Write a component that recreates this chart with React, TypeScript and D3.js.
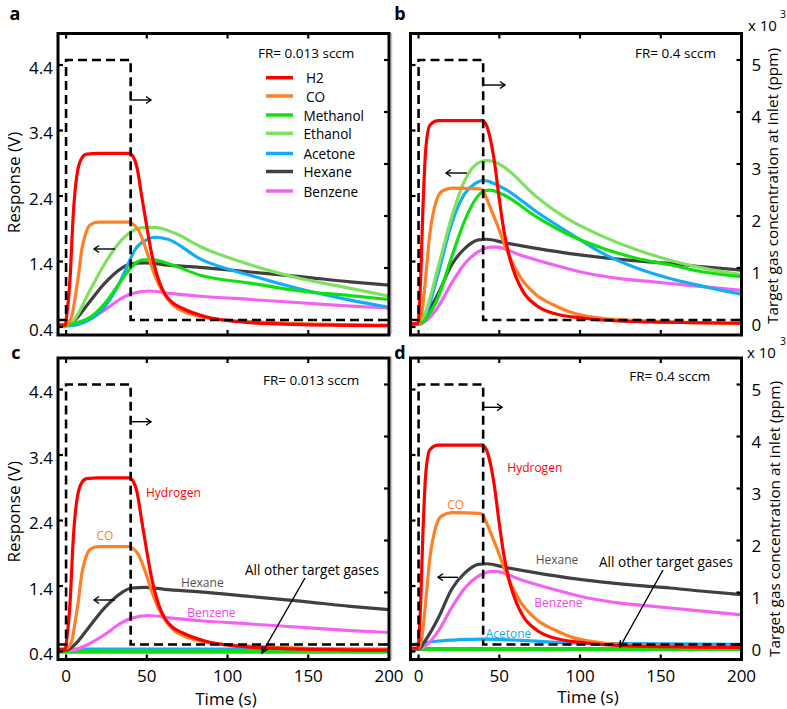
import React from "react";
import * as d3 from "d3";

type P = [number, number];

// ---------- data (time s, response V) ----------
// FR = 0.013 sccm
const H2_LOW: P[] = [[-5,0.43],[-0.5,0.43],[0.5,0.6],[2.4,1.12],[4.5,2.14],[6.6,2.7],[9.7,2.98],[12.8,3.04],[20,3.05],[39,3.05],[41.5,3.0],[43.8,2.85],[46.9,2.39],[50,1.93],[53,1.52],[56,1.22],[61,0.91],[66,0.77],[71.6,0.69],[86,0.56],[107,0.48],[140,0.44],[200,0.42]];
const CO_LOW: P[] = [[-5,0.43],[0,0.44],[3.5,0.56],[5.6,0.85],[7.6,1.17],[9.7,1.58],[11.8,1.8],[14.9,1.96],[20,2.0],[39,2.0],[41,1.98],[44.8,1.88],[48.9,1.63],[53,1.32],[57,1.07],[63.4,0.81],[75.7,0.61],[96.4,0.51],[117,0.48],[150,0.45],[200,0.43]];
const METHANOL_LOW: P[] = [[-5,0.42],[0,0.42],[5.6,0.46],[13.8,0.53],[24,0.76],[34.5,1.12],[40.7,1.32],[46.9,1.42],[53,1.43],[65.4,1.35],[83,1.19],[114,1.07],[145,0.95],[176,0.88],[200,0.82]];
const ETHANOL_LOW: P[] = [[-5,0.42],[0,0.42],[1.7,0.43],[5.6,0.53],[13.8,0.91],[24,1.37],[34.5,1.73],[40.7,1.86],[49,1.92],[55,1.92],[67.5,1.83],[83,1.63],[114,1.35],[145,1.14],[176,0.99],[200,0.87]];
const ACETONE_LOW: P[] = [[-5,0.42],[0,0.42],[1.7,0.42],[13.8,0.5],[24,0.71],[32.4,1.04],[38.6,1.37],[42.7,1.58],[49,1.72],[55,1.77],[63,1.74],[83,1.44],[114,1.19],[145,0.98],[176,0.81],[200,0.7]];
const HEXANE_LOW: P[] = [[-5,0.42],[0,0.42],[5.6,0.51],[13.8,0.76],[24,1.07],[34.5,1.3],[40.7,1.37],[49,1.38],[61,1.35],[83,1.31],[114,1.24],[145,1.17],[176,1.09],[200,1.04]];
const BENZENE_LOW: P[] = [[-5,0.42],[0,0.42],[5.6,0.43],[13.8,0.51],[24,0.66],[34.5,0.84],[40.7,0.91],[51,0.95],[65.4,0.91],[83,0.87],[114,0.82],[145,0.77],[176,0.72],[200,0.69]];

// FR = 0.4 sccm
const H2_HIGH: P[] = [[-5,0.45],[-0.5,0.45],[0.9,0.9],[2.9,2.34],[4.4,3.1],[7,3.48],[12.2,3.55],[39,3.55],[42,3.48],[44,3.32],[47,2.92],[50,2.35],[53,1.85],[56.5,1.45],[60.5,1.15],[65,0.93],[73,0.73],[83.4,0.61],[104,0.53],[135,0.48],[200,0.46]];
const CO_HIGH: P[] = [[-5,0.45],[0,0.45],[2,0.61],[5,1.32],[7,1.83],[10,2.24],[14.3,2.47],[20.5,2.52],[38,2.51],[40,2.48],[42.2,2.36],[44.5,2.22],[48.4,1.98],[54.5,1.58],[62.8,1.17],[73,0.89],[83.4,0.74],[93.7,0.63],[114.4,0.53],[135,0.5],[200,0.45]];
const METHANOL_HIGH: P[] = [[-5,0.44],[0,0.44],[4,0.51],[12.2,0.86],[20.5,1.47],[28.7,2.03],[35,2.34],[41,2.48],[44.2,2.49],[52.5,2.42],[73,2.08],[93.7,1.8],[114.4,1.6],[135,1.45],[155.7,1.35],[176.3,1.24],[200,1.17]];
const ETHANOL_HIGH: P[] = [[-5,0.44],[0,0.44],[4,0.61],[12.2,1.32],[20.5,2.08],[28.7,2.64],[35,2.87],[42,2.94],[47.3,2.92],[52.5,2.85],[73,2.39],[93.7,2.03],[114.4,1.78],[135,1.58],[155.7,1.42],[176.3,1.3],[200,1.2]];
const ACETONE_HIGH: P[] = [[-5,0.44],[0,0.44],[4,0.56],[12.2,1.22],[20.5,1.98],[28.7,2.44],[35,2.59],[40,2.64],[52.5,2.52],[73,2.16],[93.7,1.83],[114.4,1.52],[135,1.3],[155.7,1.14],[176.3,1.02],[200,0.9]];
const HEXANE_HIGH: P[] = [[-5,0.44],[0,0.44],[4,0.56],[12.2,0.91],[20.5,1.35],[28.7,1.6],[37,1.73],[42.2,1.74],[52.5,1.69],[73,1.6],[93.7,1.52],[114.4,1.46],[135,1.41],[155.7,1.37],[176.3,1.32],[200,1.27]];
const BENZENE_HIGH: P[] = [[-5,0.44],[0,0.44],[4,0.48],[12.2,0.71],[20.5,1.07],[28.7,1.37],[37,1.55],[45,1.62],[48.4,1.62],[62.8,1.5],[83.4,1.35],[104,1.22],[124.7,1.14],[145.3,1.09],[166,1.04],[200,0.96]];

// panels c / d: the weak responders
const OTHERS_LOW_GREEN: P[] = [[-5,0.395],[200,0.395]];
const OTHERS_LOW_ACETONE: P[] = [[-5,0.435],[200,0.435]];
const OTHERS_HIGH_GREEN: P[] = [[-5,0.44],[200,0.44]];
const ACETONE_HIGH_WEAK: P[] = [[-5,0.5],[0,0.52],[12,0.56],[25,0.58],[40,0.59],[64,0.57],[95,0.53],[130,0.52],[200,0.51]];

// dose pulse (time s, ppm)
const DOSE_T = [-5, 0, 0, 40, 40, 200];
const DOSE_PPM = [0, 0, 5000, 5000, 0, 0];

const V_TICKS = [0.4, 1.4, 2.4, 3.4, 4.4];
const PPM_TICKS = [0, 1000, 2000, 3000, 4000, 5000];
const T_TICKS = [0, 50, 100, 150, 200];

const GASES = ["H2", "CO", "Methanol", "Ethanol", "Acetone", "Hexane", "Benzene"];
const COLORS: Record<string, string> = {
  H2: "#ff0000",
  CO: "#ff7f27",
  Methanol: "#10e010",
  Ethanol: "#80e060",
  Acetone: "#12aef5",
  Hexane: "#404040",
  Benzene: "#f462f4",
};

const FONT = "'Open Sans', 'Noto Sans', sans-serif";
const PW = 331;
const PH = 301.5;

type Series = { gas: string; data: P[]; width?: number };
type Label = { text: string; x: number; y: number; color: string; size: number; anchor?: string };

interface PanelDef {
  key: string;
  left: number;
  top: number;
  fr: string;
  frX: number;
  frY: number;
  series: Series[];
  leftLabels: boolean;
  rightLabels: boolean;
  xLabels: boolean;
  legend: boolean;
  arrowR: [number, number, number];
  arrowL: [number, number, number];
  labels: Label[];
  pointer?: [number, number, number, number];
}

const lowAll: Series[] = [
  { gas: "Benzene", data: BENZENE_LOW },
  { gas: "Hexane", data: HEXANE_LOW },
  { gas: "Acetone", data: ACETONE_LOW },
  { gas: "Ethanol", data: ETHANOL_LOW },
  { gas: "Methanol", data: METHANOL_LOW },
  { gas: "CO", data: CO_LOW },
  { gas: "H2", data: H2_LOW },
];
const highAll: Series[] = [
  { gas: "Benzene", data: BENZENE_HIGH },
  { gas: "Hexane", data: HEXANE_HIGH },
  { gas: "Acetone", data: ACETONE_HIGH },
  { gas: "Ethanol", data: ETHANOL_HIGH },
  { gas: "Methanol", data: METHANOL_HIGH },
  { gas: "CO", data: CO_HIGH },
  { gas: "H2", data: H2_HIGH },
];
const lowSel: Series[] = [
  { gas: "Acetone", data: OTHERS_LOW_ACETONE },
  { gas: "Methanol", data: OTHERS_LOW_GREEN, width: 4 },
  { gas: "Benzene", data: BENZENE_LOW },
  { gas: "Hexane", data: HEXANE_LOW },
  { gas: "CO", data: CO_LOW },
  { gas: "H2", data: H2_LOW },
];
const highSel: Series[] = [
  { gas: "Acetone", data: ACETONE_HIGH_WEAK },
  { gas: "Ethanol", data: OTHERS_HIGH_GREEN, width: 4 },
  { gas: "Methanol", data: OTHERS_HIGH_GREEN, width: 4 },
  { gas: "Benzene", data: BENZENE_HIGH },
  { gas: "Hexane", data: HEXANE_HIGH },
  { gas: "CO", data: CO_HIGH },
  { gas: "H2", data: H2_HIGH },
];

const PANELS: PanelDef[] = [
  { key: "a", left: 58, top: 33.5, fr: "FR= 0.013 sccm", frX: 258, frY: 53, series: lowAll, leftLabels: true, rightLabels: false, xLabels: false, legend: true, arrowR: [130, 151, 100], arrowL: [115, 94, 249], labels: [] },
  { key: "b", left: 410.5, top: 33.5, fr: "FR= 0.4 sccm", frX: 635, frY: 53, series: highAll, leftLabels: false, rightLabels: true, xLabels: false, legend: false, arrowR: [483, 505, 85], arrowL: [467, 446, 173], labels: [] },
  { key: "c", left: 58, top: 358, fr: "FR= 0.013 sccm", frX: 263, frY: 380, series: lowSel, leftLabels: true, rightLabels: false, xLabels: true, legend: false, arrowR: [130, 151, 421.7], arrowL: [115, 94, 600],
    labels: [
      { text: "Hydrogen", x: 146, y: 492.7, color: COLORS.H2, size: 12 },
      { text: "CO", x: 105, y: 535, color: COLORS.CO, size: 12, anchor: "middle" },
      { text: "Hexane", x: 181, y: 582.3, color: "#505050", size: 12 },
      { text: "Benzene", x: 187.3, y: 612.3, color: "#ee44ee", size: 12 },
      { text: "All other target gases", x: 245, y: 569.3, color: "#000", size: 13.6 },
    ],
    pointer: [305, 578, 262, 653] },
  { key: "d", left: 410.5, top: 358, fr: "FR= 0.4 sccm", frX: 629.3, frY: 376, series: highSel, leftLabels: false, rightLabels: true, xLabels: true, legend: false, arrowR: [483, 502, 407.3], arrowL: [458, 438, 577.3],
    labels: [
      { text: "Hydrogen", x: 507.3, y: 467.3, color: COLORS.H2, size: 12 },
      { text: "CO", x: 455.6, y: 504, color: COLORS.CO, size: 12, anchor: "middle" },
      { text: "Hexane", x: 535.7, y: 559, color: "#505050", size: 12 },
      { text: "Benzene", x: 534.3, y: 602.3, color: "#ee44ee", size: 12 },
      { text: "Acetone", x: 485.7, y: 633.3, color: COLORS.Acetone, size: 12 },
      { text: "All other target gases", x: 599, y: 561.7, color: "#000", size: 13.6 },
    ],
    pointer: [663, 570, 620, 647] },
];

const LEGEND_Y = [77.7, 96, 115, 133.3, 153.5, 171.5, 191];

function Arrow({ x1, x2, y }: { x1: number; x2: number; y: number }) {
  const dir = x2 > x1 ? 1 : -1;
  return (
    <g stroke="#000" strokeWidth={1.4} fill="none">
      <line x1={x1} y1={y} x2={x2} y2={y} />
      <path d={`M${x2 - dir * 5},${y - 3.5} L${x2},${y} L${x2 - dir * 5},${y + 3.5}`} />
    </g>
  );
}

function Panel({ p }: { p: PanelDef }) {
  const xs = d3.scaleLinear().domain([-5, 200]).range([p.left, p.left + PW]);
  const ys = d3.scaleLinear().domain([0.278, 4.881]).range([p.top + PH, p.top]);
  const yr = d3.scaleLinear().domain([-288.5, 5509.6]).range([p.top + PH, p.top]);
  const line = d3.line<P>().x((d) => xs(d[0])).y((d) => ys(d[1])).curve(d3.curveMonotoneX);
  const dose = d3.line<number>().x((_, i) => xs(DOSE_T[i])).y((d) => yr(d));
  const clipId = `clip-${p.key}`;
  const right = p.left + PW;
  const bottom = p.top + PH;
  const tl = 5;
  return (
    <g>
      <defs>
        <clipPath id={clipId}>
          <rect x={p.left} y={p.top} width={PW} height={PH} />
        </clipPath>
      </defs>
      <g clipPath={`url(#${clipId})`}>
        {p.series.map((s, i) => (
          <path key={i} d={line(s.data) || ""} fill="none" stroke={COLORS[s.gas]} strokeWidth={s.width || 3.2} strokeLinejoin="round" />
        ))}
        <path d={dose(DOSE_PPM) || ""} fill="none" stroke="#000" strokeWidth={2.6} strokeDasharray="9,5" />
      </g>
      <rect x={p.left} y={p.top} width={PW} height={PH} fill="none" stroke="#000" strokeWidth={3} />
      <g stroke="#000" strokeWidth={2.2}>
        {V_TICKS.map((v) => (
          <line key={"l" + v} x1={p.left} x2={p.left + tl} y1={ys(v)} y2={ys(v)} />
        ))}
        {PPM_TICKS.map((v) => (
          <line key={"r" + v} x1={right} x2={right - tl} y1={yr(v)} y2={yr(v)} />
        ))}
        {T_TICKS.map((t) => (
          <g key={"t" + t}>
            <line x1={xs(t)} x2={xs(t)} y1={p.top} y2={p.top + tl} />
            <line x1={xs(t)} x2={xs(t)} y1={bottom} y2={bottom - tl} />
          </g>
        ))}
      </g>
      <g fontFamily={FONT} fill="#000">
        {p.leftLabels &&
          V_TICKS.map((v) => (
            <text key={"lt" + v} x={p.left - 5} y={ys(v) + 2} fontSize={17} textAnchor="end" dominantBaseline="central">
              {v.toFixed(1)}
            </text>
          ))}
        {p.rightLabels &&
          PPM_TICKS.map((v) => (
            <text key={"rt" + v} x={right + 10} y={yr(v) + 5} fontSize={17} dominantBaseline="central">
              {v / 1000}
            </text>
          ))}
        {p.xLabels &&
          T_TICKS.map((t) => (
            <text key={"xt" + t} x={xs(t)} y={bottom + 16} fontSize={17} textAnchor="middle" dominantBaseline="central">
              {t}
            </text>
          ))}
        <text x={p.frX} y={p.frY} fontSize={13.5} dominantBaseline="central">
          {p.fr}
        </text>
        {p.labels.map((l, i) => (
          <text key={i} x={l.x} y={l.y} fontSize={l.size} fill={l.color} textAnchor={l.anchor || "start"} dominantBaseline="central">
            {l.text}
          </text>
        ))}
      </g>
      <Arrow x1={p.arrowR[0]} x2={p.arrowR[1]} y={p.arrowR[2]} />
      <Arrow x1={p.arrowL[0]} x2={p.arrowL[1]} y={p.arrowL[2]} />
      {p.pointer && (
        <g stroke="#000" strokeWidth={1.4} fill="none">
          <line x1={p.pointer[0]} y1={p.pointer[1]} x2={p.pointer[2]} y2={p.pointer[3]} />
          {(() => {
            const [x1, y1, x2, y2] = p.pointer!;
            const ang = Math.atan2(y2 - y1, x2 - x1);
            const L = 7;
            const a1 = ang + Math.PI - 0.45;
            const a2 = ang + Math.PI + 0.45;
            return <path d={`M${x2 + L * Math.cos(a1)},${y2 + L * Math.sin(a1)} L${x2},${y2} L${x2 + L * Math.cos(a2)},${y2 + L * Math.sin(a2)}`} />;
          })()}
        </g>
      )}
      {p.legend && (
        <g fontFamily={FONT} fontSize={13.6}>
          {GASES.map((g, i) => (
            <g key={g}>
              <line x1={266} x2={293} y1={LEGEND_Y[i]} y2={LEGEND_Y[i]} stroke={COLORS[g]} strokeWidth={3.5} />
              <text x={g === "H2" || g === "CO" ? 306 : 303.5} y={LEGEND_Y[i]} dominantBaseline="central">
                {g}
              </text>
            </g>
          ))}
        </g>
      )}
    </g>
  );
}

export default function App() {
  return (
    <svg width={787} height={709} style={{ position: "absolute", left: 0, top: 0, background: "#fff" }}>
      <rect x={0} y={0} width={787} height={709} fill="#fff" />
      <line x1={391.5} x2={391.5} y1={33} y2={334} stroke="#c8c8c8" strokeWidth={1.5} />
      <line x1={391.5} x2={391.5} y1={357} y2={660} stroke="#c8c8c8" strokeWidth={1.5} />
      {PANELS.map((p) => (
        <Panel key={p.key} p={p} />
      ))}
      <g fontFamily={FONT} fill="#000">
        <text x={15} y={13} fontSize={18} fontWeight="bold" textAnchor="middle" dominantBaseline="central">a</text>
        <text x={400} y={13} fontSize={18} fontWeight="bold" textAnchor="middle" dominantBaseline="central">b</text>
        <text x={16} y={352} fontSize={18} fontWeight="bold" textAnchor="middle" dominantBaseline="central">c</text>
        <text x={400} y={352} fontSize={18} fontWeight="bold" textAnchor="middle" dominantBaseline="central">d</text>
        <text transform="translate(13.5,182.5) rotate(-90)" fontSize={17} textAnchor="middle" dominantBaseline="central">Response (V)</text>
        <text transform="translate(13.5,511.7) rotate(-90)" fontSize={17} textAnchor="middle" dominantBaseline="central">Response (V)</text>
        <text transform="translate(772,186) rotate(-90)" fontSize={15.3} textAnchor="middle" dominantBaseline="central">Target gas concentration at inlet (ppm)</text>
        <text transform="translate(774,519) rotate(-90)" fontSize={15.3} textAnchor="middle" dominantBaseline="central">Target gas concentration at inlet (ppm)</text>
        <text x={748} y={25} fontSize={15} dominantBaseline="central">x 10</text>
        <text x={780} y={14} fontSize={10.5} dominantBaseline="central">3</text>
        <text x={747} y={351.7} fontSize={15} dominantBaseline="central">x 10</text>
        <text x={780} y={341} fontSize={10.5} dominantBaseline="central">3</text>
        <text x={226} y={698.5} fontSize={17} textAnchor="middle" dominantBaseline="central">Time (s)</text>
        <text x={588} y={696.5} fontSize={17} textAnchor="middle" dominantBaseline="central">Time (s)</text>
      </g>
    </svg>
  );
}
